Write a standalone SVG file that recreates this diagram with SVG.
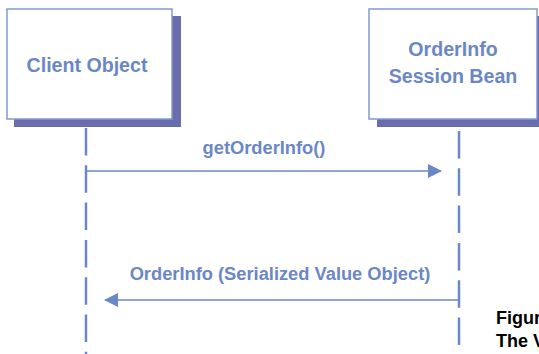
<svg xmlns="http://www.w3.org/2000/svg" width="539" height="354" viewBox="0 0 539 354">
<defs>
<style>
.shadow{fill:#6a6dad}
.box{fill:#ffffff;stroke:#8299cf;stroke-width:1.5}
.lbl{font-family:"Liberation Sans",Arial,sans-serif;font-weight:bold;font-size:18.3px;fill:#6b87c6;text-anchor:middle}
.blbl{font-size:19.6px}
.life{stroke:#6b87c6;stroke-width:2.5;stroke-dasharray:27.5 9.8;fill:none}
.msg{stroke:#6b87c6;stroke-width:1.5;fill:none}
.cap{font-family:"Liberation Sans",Arial,sans-serif;font-weight:bold;font-size:18px;fill:#000000}
</style>
<marker id="ah" viewBox="0 0 14 14" refX="13" refY="7" markerWidth="14" markerHeight="14" markerUnits="userSpaceOnUse" orient="auto">
<path d="M0,0 L14,7 L0,14 Z" fill="#6b87c6"/>
</marker>
</defs>
<g id="client">
<rect class="shadow" x="14" y="16" width="167" height="111"/>
<rect class="box" x="7" y="9" width="165" height="110"/>
<text class="lbl blbl" x="87" y="72">Client Object</text>
</g>
<g id="orderinfo">
<rect class="shadow" x="377" y="16" width="170" height="111"/>
<rect class="box" x="369" y="9" width="168" height="110"/>
<text class="lbl blbl" x="453" y="56">OrderInfo</text>
<text class="lbl blbl" x="453" y="83">Session Bean</text>
</g>
<g id="connectors">
<line class="life" x1="86" y1="128" x2="86" y2="354"/>
<line class="life" x1="459" y1="131" x2="459" y2="354"/>
<line class="msg" x1="86" y1="171" x2="441" y2="171" marker-end="url(#ah)"/>
<line class="msg" x1="459" y1="300" x2="105" y2="300" marker-end="url(#ah)"/>
<text class="lbl" x="264" y="154">getOrderInfo()</text>
<text class="lbl" x="280" y="280">OrderInfo (Serialized Value Object)</text>
</g>
<g id="caption">
<text class="cap" x="496" y="324">Figur</text>
<text class="cap" x="496" y="347">The V</text>
</g>
</svg>
